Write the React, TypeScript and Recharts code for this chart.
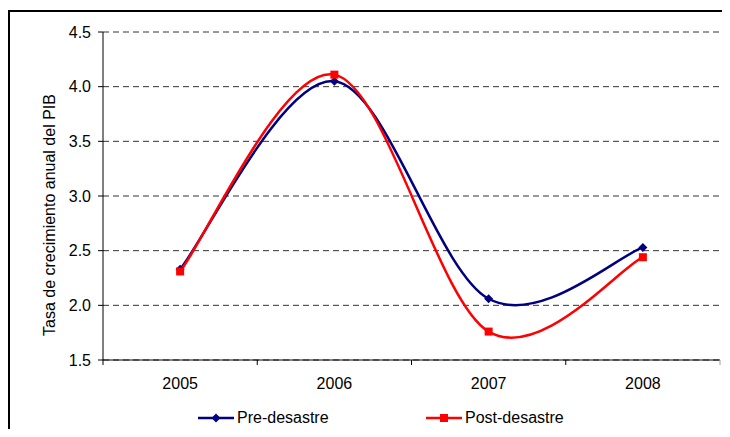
import React from "react";
import {
  LineChart, Line, XAxis, YAxis, CartesianGrid, Legend,
} from "recharts";

const years = ["2005", "2006", "2007", "2008"];
const preValues = [2.33, 4.05, 2.06, 2.53];
const postValues = [2.31, 4.11, 1.76, 2.44];
const yTicks = [1.5, 2.0, 2.5, 3.0, 3.5, 4.0, 4.5];

const series = [
  { key: "pre", name: "Pre-desastre", color: "#000080", marker: "diamond" },
  { key: "post", name: "Post-desastre", color: "#FF0000", marker: "square" },
];

const data = years.map((year, i) => ({ year, pre: preValues[i], post: postValues[i] }));

const W = 714;
const H = 421;
const MARGIN = { top: 24, right: 2, left: 0, bottom: 5 };
const Y_AXIS_W = 95;
const PLOT_W = W - MARGIN.left - MARGIN.right - Y_AXIS_W;
const FONT = "'Liberation Sans', Arial, sans-serif";
const FS = 16;

// Excel-like smoothed line (Catmull-Rom as bezier segments)
function excelSmooth(context: any) {
  let pts: [number, number][] = [];
  return {
    areaStart() {},
    areaEnd() {},
    lineStart() { pts = []; },
    point(x: number, y: number) { pts.push([+x, +y]); },
    lineEnd() {
      if (!pts.length) return;
      context.moveTo(pts[0][0], pts[0][1]);
      for (let i = 0; i < pts.length - 1; i++) {
        const p0 = pts[Math.max(i - 1, 0)];
        const p1 = pts[i];
        const p2 = pts[i + 1];
        const p3 = pts[Math.min(i + 2, pts.length - 1)];
        context.bezierCurveTo(
          p1[0] + (p2[0] - p0[0]) / 6, p1[1] + (p2[1] - p0[1]) / 6,
          p2[0] - (p3[0] - p1[0]) / 6, p2[1] - (p3[1] - p1[1]) / 6,
          p2[0], p2[1],
        );
      }
    },
  };
}

function Marker({ cx, cy, shape, color }: any) {
  if (cx == null || cy == null) return null;
  if (shape === "diamond") {
    const r = 4.5;
    return <polygon points={`${cx},${cy - r} ${cx + r},${cy} ${cx},${cy + r} ${cx - r},${cy}`} fill={color} />;
  }
  return <rect x={cx - 4} y={cy - 4} width={8} height={8} fill={color} />;
}

function YearTick(props: any) {
  const { x, y, payload, index } = props;
  const bw = PLOT_W / years.length;
  return (
    <g>
      <line x1={x - bw / 2} y1={y} x2={x - bw / 2} y2={y + 5} stroke="#000" />
      {index === years.length - 1 && (
        <line x1={x + bw / 2} y1={y} x2={x + bw / 2} y2={y + 5} stroke="#a0a0a0" />
      )}
      <text x={x} y={y + 29} textAnchor="middle" fontSize={FS} fontFamily={FONT} fill="#000">
        {payload.value}
      </text>
    </g>
  );
}

const legendX = [190, 418];

function LegendContent() {
  return (
    <div style={{ position: "relative", height: 24, fontFamily: FONT, fontSize: FS }}>
      {series.map((s, i) => (
        <div key={s.key} style={{ position: "absolute", left: legendX[i], top: 0, height: 24, display: "flex", alignItems: "center" }}>
          <svg width={36} height={12} style={{ marginRight: 3 }}>
            <line x1={0} y1={6} x2={36} y2={6} stroke={s.color} strokeWidth={2.5} />
            <Marker cx={18} cy={6} shape={s.marker} color={s.color} />
          </svg>
          <span style={{ color: "#000" }}>{s.name}</span>
        </div>
      ))}
    </div>
  );
}

export default function App() {
  return (
    <div style={{ position: "relative", width: W, height: H }}>
      <div style={{ position: "absolute", left: 0, top: 2, width: 722, height: H - 2, borderTop: "2px solid #000", borderLeft: "2px solid #000", boxSizing: "border-box" }} />
      <LineChart width={W} height={H} data={data} margin={MARGIN}>
        <CartesianGrid vertical={false} stroke="#333" strokeDasharray="6 4" />
        <XAxis
          dataKey="year"
          scale="band"
          height={40}
          tickLine={false}
          tickSize={0}
          tickMargin={0}
          axisLine={{ stroke: "#000" }}
          tick={<YearTick />}
          interval={0}
        />
        <YAxis
          width={Y_AXIS_W}
          domain={[1.5, 4.5]}
          ticks={yTicks}
          tickFormatter={(v: number) => v.toFixed(1)}
          tickSize={5}
          tickMargin={7}
          tickLine={{ stroke: "#000" }}
          axisLine={{ stroke: "#000" }}
          tick={{ fill: "#000", fontSize: FS, fontFamily: FONT }}
          label={{
            value: "Tasa de crecimiento anual del PIB",
            angle: -90,
            position: "center",
            dx: -6,
            dy: 19,
            style: { fill: "#000", fontSize: FS, fontFamily: FONT },
          }}
        />
        <YAxis
          yAxisId="frame"
          orientation="right"
          width={0}
          domain={[0, 1]}
          tick={false}
          tickLine={false}
          axisLine={{ stroke: "#a0a0a0" }}
        />
        <Legend
          verticalAlign="bottom"
          height={24}
          content={<LegendContent />}
          wrapperStyle={{ left: 0, width: W, top: 398, bottom: "auto" }}
        />
        {series.map((s) => (
          <Line
            key={s.key}
            dataKey={s.key}
            name={s.name}
            type={excelSmooth as any}
            stroke={s.color}
            strokeWidth={2.5}
            dot={(p: any) => <Marker key={`${s.key}-${p.index}`} cx={p.cx} cy={p.cy} shape={s.marker} color={s.color} />}
            activeDot={false}
            isAnimationActive={false}
          />
        ))}
      </LineChart>
    </div>
  );
}
